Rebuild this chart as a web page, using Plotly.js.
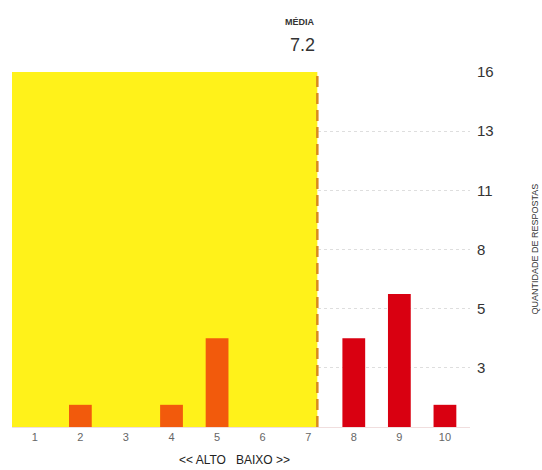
<!DOCTYPE html>
<html>
<head>
<meta charset="utf-8">
<script src="https://cdn.plot.ly/plotly-3.0.1.min.js"></script>
<style>html,body{margin:0;padding:0;background:#fff;}#chart{width:542px;height:470px;}</style>
</head>
<body>
<div id="chart"></div>
<script>
// Data
const notas = [1, 2, 3, 4, 5, 6, 7, 8, 9, 10];
const respostas = [0, 1, 0, 1, 4, 0, 0, 4, 6, 1];
const media = 7.2;
const yTickVals = [16/6, 32/6, 8, 64/6, 80/6, 16];
const yTickText = ["3", "5", "8", "11", "13", "16"];
const xTitle = "&lt;&lt; ALTO   BAIXO &gt;&gt;";
const yTitle = "QUANTIDADE DE RESPOSTAS";
const mediaLabel = "MÉDIA";

const barColors = notas.map(n => n < media ? "#F25A0C" : "#D90011");

const trace = {
  type: "bar",
  x: notas,
  y: respostas,
  width: 0.5,
  marker: { color: barColors, line: { width: 0 } },
  hoverinfo: "x+y"
};

const layout = {
  width: 542,
  height: 470,
  margin: { l: 12, r: 72, t: 72, b: 43 },
  paper_bgcolor: "#ffffff",
  plot_bgcolor: "rgba(0,0,0,0)",
  font: { family: "Liberation Sans, Arial, sans-serif", color: "#333" },
  showlegend: false,
  xaxis: {
    range: [0.5, 10.55],
    tickmode: "array",
    tickvals: notas,
    ticktext: notas.map(String),
    tickfont: { size: 11, color: "#666" },
    ticks: "",
    showgrid: false,
    zeroline: false,
    showline: true,
    linecolor: "#f0dede",
    linewidth: 1,
    fixedrange: true
  },
  yaxis: {
    side: "right",
    range: [0, 16],
    tickmode: "array",
    tickvals: yTickVals,
    ticktext: yTickText,
    tickfont: { size: 15, color: "#333" },
    ticks: "",
    ticklabelstandoff: 6,
    showgrid: true,
    gridcolor: "#dedede",
    griddash: "dot",
    gridwidth: 1,
    zeroline: false,
    showline: false,
    fixedrange: true
  },
  shapes: [
    {
      type: "rect", layer: "between",
      xref: "x", yref: "y",
      x0: 0.5, x1: media, y0: 0, y1: 16,
      fillcolor: "#FFF21A", line: { width: 0 }
    },
    {
      type: "line", layer: "above",
      xref: "x", yref: "y",
      x0: media, x1: media, y0: 0, y1: 16,
      line: { color: "#D98B1F", width: 2.5, dash: "11px,6px" }
    }
  ],
  annotations: [
    {
      xref: "x", yref: "paper", x: media, y: 1.141,
      xanchor: "right", yanchor: "middle",
      text: "<b>" + mediaLabel + "</b>", showarrow: false,
      font: { size: 9, color: "#333" }
    },
    {
      xref: "x", yref: "paper", x: media, y: 1.076,
      xanchor: "right", yanchor: "middle",
      text: String(media), showarrow: false,
      font: { size: 18, color: "#333" }
    },
    {
      xref: "paper", yref: "paper", x: 1.14, y: 0.5,
      xanchor: "center", yanchor: "middle",
      textangle: -90,
      text: yTitle, showarrow: false,
      font: { size: 9, color: "#333" }
    },
    {
      xref: "paper", yref: "paper", x: 0.485, y: -0.094,
      xanchor: "center", yanchor: "middle",
      text: xTitle, showarrow: false,
      font: { size: 12, color: "#222" }
    }
  ]
};

Plotly.newPlot("chart", [trace], layout, { displayModeBar: false, staticPlot: true });
</script>
</body>
</html>
